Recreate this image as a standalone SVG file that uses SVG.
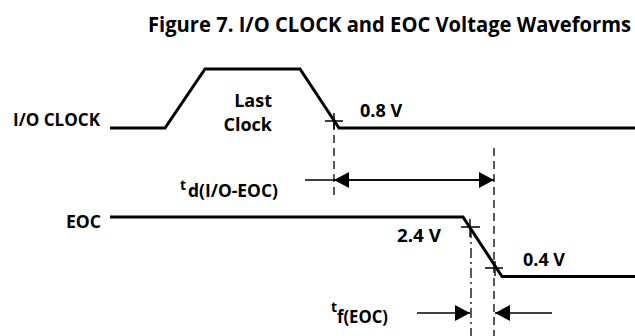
<svg xmlns="http://www.w3.org/2000/svg" width="635" height="336" viewBox="0 0 635 336">
<style>
text{font-family:"Open Sans","Noto Sans","Liberation Sans",sans-serif;font-weight:bold;fill:#000}
.lbl{font-size:18px}
.sub{font-size:14px}
.title{font-size:22px}
.wave{fill:none;stroke:#000;stroke-width:3;stroke-linejoin:miter}
.cross{fill:none;stroke:#000;stroke-width:1.4}
.dash{fill:none;stroke:#000;stroke-width:1.3;stroke-dasharray:8 5}
.dashdot{fill:none;stroke:#000;stroke-width:1.3;stroke-dasharray:10 4 2 4}
.dim{fill:none;stroke:#000;stroke-width:1.5}
</style>
<defs>
<marker id="arr" markerUnits="userSpaceOnUse" markerWidth="15" markerHeight="16" refX="15" refY="8" orient="auto" viewBox="0 0 15 16">
<path d="M0,0 L15,8 L0,16 Z" fill="#000"/>
</marker>
</defs>
<rect width="635" height="336" fill="#fff"/>
<g id="title" transform="translate(148,32) scale(0.92,1)">
<text class="title" x="0" y="0" textLength="525" lengthAdjust="spacingAndGlyphs">Figure 7. I/O CLOCK and EOC Voltage Waveforms</text>
</g>
<g id="io-clock">
<text class="lbl" x="13" y="126" textLength="87" lengthAdjust="spacingAndGlyphs">I/O CLOCK</text>
<path class="wave" d="M110,128 L165,128 L205,69 L300,69 L339,128 L635,128"/>
<text class="lbl" x="272" y="107" text-anchor="end">Last</text>
<text class="lbl" x="272" y="131" text-anchor="end">Clock</text>
<text class="lbl" x="360" y="117">0.8 V</text>
<path class="cross" stroke="#444" d="M325,121 H343 M334,113 V129"/>
</g>
<g id="eoc">
<text class="lbl" x="66" y="228" textLength="35" lengthAdjust="spacingAndGlyphs">EOC</text>
<path class="wave" d="M110,217 L463,217 L502,276.5 L635,276.5"/>
<text class="lbl" x="397" y="241.5" textLength="44" lengthAdjust="spacingAndGlyphs">2.4 V</text>
<text class="lbl" x="523" y="265.5" textLength="42" lengthAdjust="spacingAndGlyphs">0.4 V</text>
<path class="cross" d="M461,227 H480 M470,219 V237"/>
<path class="cross" d="M485,268 H503 M495,261 V276"/>
</g>
<g id="td-label">
<text x="180" y="190" class="sub">t</text>
<text class="lbl" x="188" y="197" textLength="90" lengthAdjust="spacingAndGlyphs">d(I/O-EOC)</text>
</g>
<g id="tf-label">
<text x="331" y="312" class="sub">t</text>
<text class="lbl" x="337" y="323" textLength="51" lengthAdjust="spacingAndGlyphs">f(EOC)</text>
</g>
<g id="connectors">
<path class="dash" d="M334,122 V196"/>
<path class="dash" d="M494,148 V336"/>
<path class="dashdot" d="M471,228 V336"/>
<path class="dim" d="M305,180 H334"/>
<path class="dim" d="M494,180 H334" marker-end="url(#arr)"/>
<path class="dim" d="M334,180 H494" marker-end="url(#arr)"/>
<path class="dim" d="M417,313 H470" marker-end="url(#arr)"/>
<path class="dim" stroke="#999" d="M552,313 H495" marker-end="url(#arr)"/>
</g>
</svg>
